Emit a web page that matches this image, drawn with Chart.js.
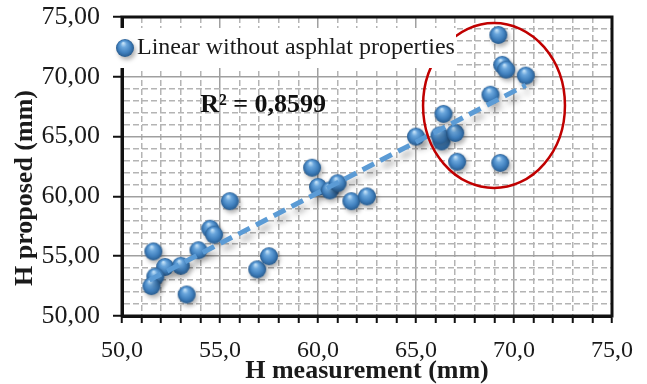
<!DOCTYPE html>
<html>
<head>
<meta charset="utf-8">
<title>H proposed vs H measurement</title>
<script src="https://cdn.jsdelivr.net/npm/chart.js@4.4.1/dist/chart.umd.min.js"></script>
<style>
html, body { margin: 0; padding: 0; background: #fff; }
</style>
</head>
<body>
<canvas id="chart" width="647" height="384"></canvas>
<script>
// values
const measured = [51.6, 52.2, 53.0, 51.7, 51.5, 53.3, 53.9, 54.5, 54.7, 55.5,
                  56.9, 57.5, 59.7, 60.0, 60.6, 61.0, 61.7, 62.5, 65.0, 66.3,
                  66.2, 66.4, 67.0, 67.1, 69.3, 68.8, 69.2, 69.4, 69.6, 70.6];
const proposed = [55.4, 54.1, 54.2, 53.3, 52.5, 51.8, 55.5, 57.3, 56.8, 59.6,
                  53.9, 55.0, 62.4, 60.8, 60.5, 61.1, 59.6, 60.0, 65.0, 64.6,
                  65.1, 66.9, 65.3, 62.9, 62.8, 68.5, 73.5, 71.0, 70.6, 70.1];
// linear trend line, ends as drawn
const trendX = [51.4, 70.6];
const trendY = [53.0, 69.3];
const xTicks = [50, 55, 60, 65, 70, 75];
const yTicks = [50, 55, 60, 65, 70, 75];
const seriesName = 'Linear without asphlat properties';
const r2Text = 'R² = 0,8599';
const r2At = [57.2, 67.6];
const xTitle = 'H measurement (mm)';
const yTitle = 'H proposed (mm)';
// red ring round the upper group: centre x, centre y, half width, half height (data units)
const ring = [68.98, 67.6, 3.62, 6.9];

const serif = 'Liberation Serif, Times New Roman, serif';

function makeBall(r) {
  const c = document.createElement('canvas');
  const s = r * 2 + 14;
  c.width = s; c.height = s;
  const g = c.getContext('2d');
  const cx = s / 2, cy = s / 2;
  g.shadowColor = 'rgba(0,0,0,0.3)';
  g.shadowBlur = 4;
  g.shadowOffsetX = 2;
  g.shadowOffsetY = 3;
  const grad = g.createRadialGradient(cx - r * 0.2, cy - r * 0.55, r * 0.05, cx, cy, r);
  grad.addColorStop(0, '#c4e2f8');
  grad.addColorStop(0.3, '#6aa6dc');
  grad.addColorStop(0.7, '#3f7fbd');
  grad.addColorStop(1, '#285b8e');
  g.fillStyle = grad;
  g.beginPath();
  g.arc(cx, cy, r, 0, Math.PI * 2);
  g.fill();
  return c;
}
const ball = makeBall(9);

const points = measured.map((x, i) => ({ x: x, y: proposed[i] }));
const trend = trendX.map((x, i) => ({ x: x, y: trendY[i] }));

const fmtX = v => v.toFixed(1).replace('.', ',');
const fmtY = v => v.toFixed(2).replace('.', ',');

const trendShadow = {
  id: 'trendShadow',
  beforeDatasetDraw(chart, args) {
    if (args.index !== 0) return;
    const ctx = chart.ctx;
    ctx.save();
    ctx.shadowColor = 'rgba(0,0,0,0.3)';
    ctx.shadowBlur = 6;
    ctx.shadowOffsetX = 3;
    ctx.shadowOffsetY = 6;
  },
  afterDatasetDraw(chart, args) {
    if (args.index === 0) chart.ctx.restore();
  }
};

const extras = {
  id: 'extras',
  afterDraw(chart) {
    const ctx = chart.ctx;
    const a = chart.chartArea;
    const xs = chart.scales.x, ys = chart.scales.y;
    ctx.save();
    // frame
    ctx.strokeStyle = '#111';
    ctx.lineWidth = 3;
    ctx.strokeRect(a.left, a.top, a.right - a.left, a.bottom - a.top);

    // red ring
    const cx = xs.getPixelForValue(ring[0]);
    const cy = ys.getPixelForValue(ring[1]);
    const rx = xs.getPixelForValue(ring[0] + ring[2]) - cx;
    const ry = cy - ys.getPixelForValue(ring[1] + ring[3]);
    ctx.strokeStyle = '#c00000';
    ctx.lineWidth = 2.5;
    ctx.beginPath();
    ctx.ellipse(cx, cy, rx, ry, 0, 0, Math.PI * 2);
    ctx.stroke();

    // R² label
    ctx.fillStyle = '#111';
    ctx.font = 'bold 26px ' + serif;
    ctx.textAlign = 'center';
    ctx.textBaseline = 'middle';
    ctx.fillText(r2Text, xs.getPixelForValue(r2At[0]), ys.getPixelForValue(r2At[1]));

    // legend inside the plot
    ctx.fillStyle = '#fff';
    ctx.fillRect(a.left - 10, a.top + 11, 344, 40);
    ctx.drawImage(ball, a.left + 3 - ball.width / 2, a.top + 31 - ball.height / 2);
    ctx.fillStyle = '#1a1a1a';
    ctx.font = '24px ' + serif;
    ctx.textAlign = 'left';
    ctx.fillText(seriesName, a.left + 15, a.top + 31);

    // axis titles
    ctx.font = 'bold 26px ' + serif;
    ctx.textAlign = 'center';
    ctx.textBaseline = 'alphabetic';
    ctx.fillText(xTitle, (a.left + a.right) / 2, 378);
    ctx.translate(32, 188);
    ctx.rotate(-Math.PI / 2);
    ctx.fillText(yTitle, 0, 0);
    ctx.restore();
  }
};

new Chart(document.getElementById('chart'), {
  type: 'scatter',
  data: {
    datasets: [
      {
        label: 'trend',
        data: trend,
        showLine: true,
        borderColor: '#5b9bd5',
        borderWidth: 5,
        borderDash: [13, 7],
        pointRadius: 0,
        fill: false
      },
      {
        label: seriesName,
        data: points,
        pointStyle: ball,
        pointRadius: 9,
        pointHoverRadius: 9
      }
    ]
  },
  options: {
    responsive: false,
    animation: false,
    layout: { padding: { left: 0, top: 17, right: 35, bottom: 0 } },
    plugins: {
      legend: { display: false },
      tooltip: { enabled: false }
    },
    scales: {
      x: {
        type: 'linear',
        min: 50, max: 75,
        afterFit(s) { s.height = 68; s.paddingLeft = 0; s.paddingRight = 0; },
        ticks: {
          stepSize: 1,
          autoSkip: false,
          maxRotation: 0,
          padding: 13,
          color: '#1a1a1a',
          font: { family: serif, size: 24 },
          callback: v => xTicks.includes(v) ? fmtX(v) : ''
        },
        grid: {
          color: c => c.tick && xTicks.includes(c.tick.value) ? '#a0a0a0' : '#b4b4b4',
          lineWidth: 1.5,
          tickColor: '#111',
          tickWidth: 2,
          tickLength: 7
        },
        border: {
          color: '#111',
          width: 3,
          dash: c => c.tick && !xTicks.includes(c.tick.value) ? [6, 3] : []
        }
      },
      y: {
        type: 'linear',
        min: 50, max: 75,
        afterFit(s) { s.width = 122; s.paddingTop = 0; s.paddingBottom = 0; },
        ticks: {
          stepSize: 1,
          autoSkip: false,
          padding: 13,
          color: '#1a1a1a',
          font: { family: serif, size: 26 },
          callback: v => yTicks.includes(v) ? fmtY(v) : ''
        },
        grid: {
          color: c => c.tick && yTicks.includes(c.tick.value) ? '#a0a0a0' : '#b4b4b4',
          lineWidth: 1.5,
          tickColor: c => c.tick && yTicks.includes(c.tick.value) ? '#111' : 'rgba(0,0,0,0)',
          tickWidth: 2,
          tickLength: 9
        },
        border: {
          color: '#111',
          width: 3,
          dash: c => c.tick && !yTicks.includes(c.tick.value) ? [6, 3] : []
        }
      }
    }
  },
  plugins: [trendShadow, extras]
});
</script>
</body>
</html>
